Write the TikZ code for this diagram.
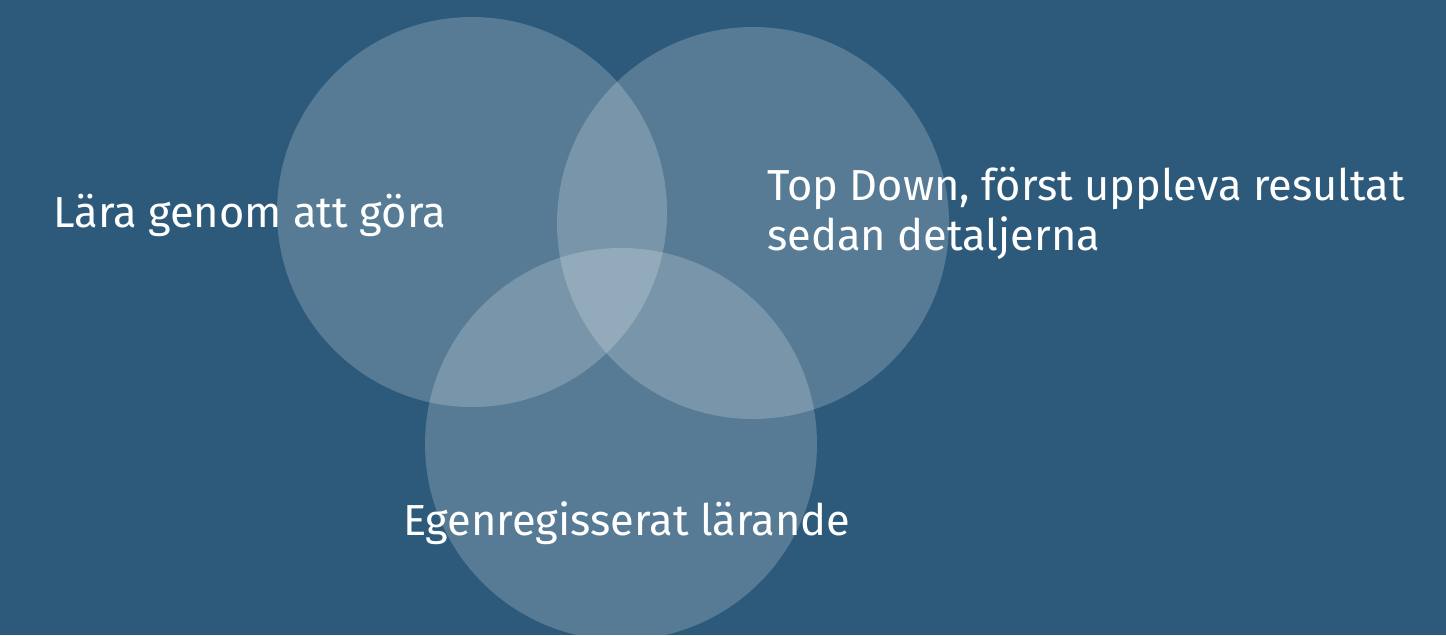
\documentclass[tikz,border=0pt]{standalone}
\usepackage{fontspec}
\setmainfont{Fira Sans}
\definecolor{bg}{HTML}{2D5A7B}
\begin{document}
\begin{tikzpicture}[x=1pt,y=-1pt,
  venn/.style={fill=white,fill opacity=0.2,draw=none},
  lbl/.style={text=white,font=\fontsize{43.4}{50}\selectfont,inner sep=0pt,anchor=base west,align=left}]
\fill[bg] (0,0) rectangle (1446,635);
\useasboundingbox (0,0) rectangle (1446,635);
\fill[venn] (472,212) circle (195);
\fill[venn] (753,223) circle (196);
\fill[venn] (621,444) circle (196);
\node[lbl] (a) at (53,227) {Lära genom att göra};
\node[lbl] (b) at (767,250) {Top Down, först uppleva resultat\\sedan detaljerna};
\node[lbl] (c) at (403,535) {Egenregisserat lärande};
\end{tikzpicture}
\end{document}
